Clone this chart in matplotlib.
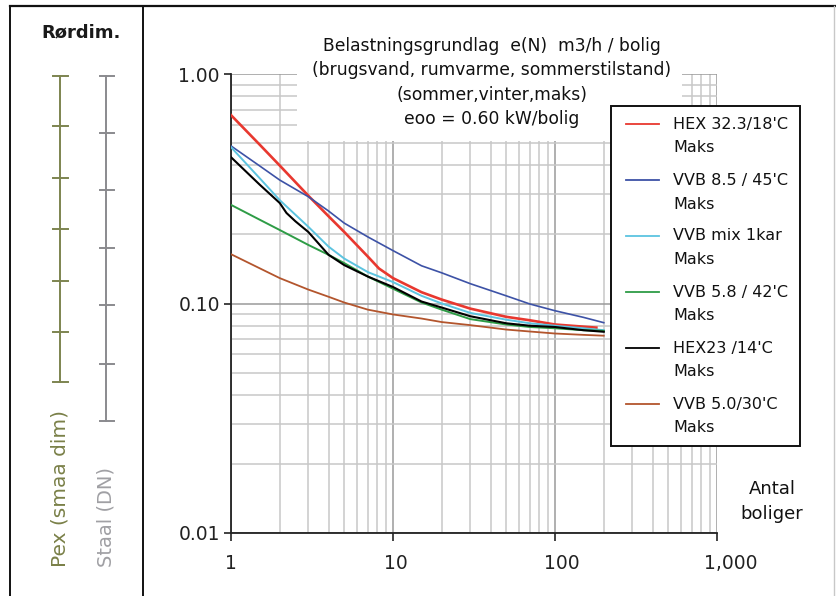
import matplotlib
matplotlib.use("Agg")
import matplotlib.pyplot as plt
from matplotlib.lines import Line2D
from matplotlib.patches import Rectangle
from matplotlib.ticker import LogLocator, FixedLocator, FixedFormatter, NullFormatter
import matplotlib.transforms as mtransforms

# ---------------- data ----------------
x_n = [1, 1.5, 2, 3, 4, 5, 7, 10, 15, 20, 30, 50, 70, 100, 150, 200]

hex_32_x = [1, 1.5, 2, 3, 4, 5, 7, 8.2, 10, 15, 20, 30, 50, 70, 100, 180]
hex_32 = [0.662, 0.493, 0.399, 0.295, 0.240, 0.205, 0.160, 0.142, 0.129, 0.112,
          0.104, 0.095, 0.0875, 0.0845, 0.081, 0.0785]
vvb_85 = [0.486, 0.398, 0.345, 0.292, 0.253, 0.224, 0.195, 0.170, 0.146, 0.136,
          0.122, 0.108, 0.0995, 0.093, 0.087, 0.0825]
vvb_mix = [0.480, 0.352, 0.282, 0.216, 0.177, 0.157, 0.137, 0.124, 0.108, 0.100,
           0.091, 0.085, 0.082, 0.080, 0.078, 0.0765]
vvb_58 = [0.269, 0.232, 0.209, 0.180, 0.163, 0.150, 0.131, 0.116, 0.101, 0.094,
          0.0855, 0.081, 0.079, 0.078, 0.0765, 0.076]
hex_23_x = [1, 1.5, 2, 2.2, 2.5, 3, 4, 5, 7, 10, 15, 20, 30, 50, 70, 100, 150, 200]
hex_23 = [0.434, 0.330, 0.274, 0.248, 0.228, 0.205, 0.163, 0.147, 0.131, 0.118,
          0.102, 0.096, 0.088, 0.082, 0.080, 0.079, 0.0765, 0.0753]
vvb_50 = [0.164, 0.1425, 0.129, 0.115, 0.107, 0.101, 0.094, 0.0896, 0.086, 0.083,
          0.0805, 0.077, 0.0755, 0.074, 0.073, 0.0724]

series_labels = ["HEX 32.3/18'C", "VVB 8.5 / 45'C", "VVB mix 1kar",
                 "VVB 5.8 / 42'C", "HEX23 /14'C", "VVB 5.0/30'C"]
series_sub = "Maks"
series_colors = ["#e8382f", "#3d52a6", "#5cc4e0", "#2e9c46", "#000000", "#b3552d"]
series_lw = [1.9, 1.2, 1.4, 1.4, 1.5, 1.3]

x_ticks = [1, 10, 100, 1000]
x_ticklabels = ["1", "10", "100", "1,000"]
y_ticks = [0.01, 0.1, 1.0]
y_ticklabels = ["0.01", "0.10", "1.00"]

title_lines = ["Belastningsgrundlag  e(N)  m3/h / bolig",
               "(brugsvand, rumvarme, sommerstilstand)",
               "(sommer,vinter,maks)",
               "eoo = 0.60 kW/bolig"]

# pipe-dimension scale markers (left panel), pixel rows
pex_marks = [75.7, 126, 177.7, 228.7, 281, 332, 382.3]
staal_marks = [75.7, 133.3, 190.3, 248.3, 305.3, 364.3, 421]

# ---------------- figure ----------------
W, H = 836, 596
fig = plt.figure(figsize=(W / 100, H / 100), dpi=100)
plt.rcParams['font.family'] = ['DejaVu Sans']


def fx(px):
    return px / W


def fy(py):
    return 1 - py / H


ax_l, ax_r, ax_t, ax_b = 231, 717, 74, 533
ax = fig.add_axes([fx(ax_l), fy(ax_b), (ax_r - ax_l) / W, (ax_b - ax_t) / H])
ax.set_xscale('log')
ax.set_yscale('log')
ax.set_xlim(1, 1000)
ax.set_ylim(0.01, 1.0)

xs_list = [hex_32_x, x_n, x_n, x_n, hex_23_x, x_n]
ys_list = [hex_32, vvb_85, vvb_mix, vvb_58, hex_23, vvb_50]
for xs, ys, c, lw, lab in zip(xs_list, ys_list, series_colors, series_lw, series_labels):
    ax.plot(xs, ys, color=c, lw=lw, label=lab, zorder=3)

ax.xaxis.set_major_locator(FixedLocator(x_ticks))
ax.xaxis.set_major_formatter(FixedFormatter(x_ticklabels))
ax.yaxis.set_major_locator(FixedLocator(y_ticks))
ax.yaxis.set_major_formatter(FixedFormatter(y_ticklabels))
ax.xaxis.set_minor_locator(LogLocator(base=10, subs=range(2, 10)))
ax.yaxis.set_minor_locator(LogLocator(base=10, subs=range(2, 10)))
ax.xaxis.set_minor_formatter(NullFormatter())
ax.yaxis.set_minor_formatter(NullFormatter())

ax.grid(which='minor', color='#c8c8c8', lw=1.1)
ax.grid(which='major', color='#9a9a9a', lw=1.1)
ax.set_axisbelow(True)

for s in ['top', 'right']:
    ax.spines[s].set_visible(False)
for s in ['left', 'bottom']:
    ax.spines[s].set_linewidth(1.3)
    ax.spines[s].set_color('#222222')

ax.tick_params(axis='both', which='minor', length=0)
ax.tick_params(axis='x', which='major', length=6, width=1.2, pad=9,
               labelsize=13.5, labelcolor='#222222', color='#222222')
ax.tick_params(axis='y', which='major', length=5, width=1.2, pad=3,
               labelsize=13.5, labelcolor='#222222', color='#222222')

# slight horizontal offsets of x tick labels as in reference
offs = [0, 3, 7, 14]
for lab, o in zip(ax.get_xticklabels(), offs):
    lab.set_transform(lab.get_transform() +
                      mtransforms.ScaledTranslation(o / 100, 0, fig.dpi_scale_trans))

# title block (white background masking grid)
fig.add_artist(Rectangle((fx(297), fy(141)), (682 - 297) / W, (141 - 20) / H,
                         transform=fig.transFigure, facecolor='white',
                         edgecolor='none', zorder=1))
for i, t in enumerate(title_lines):
    fig.text(fx(492), fy(46 + 24.3 * i), t, ha='center', va='center',
             fontsize=12.3, color='#111111', zorder=2)

# x-axis caption
fig.text(fx(772), fy(489), "Antal", ha='center', va='center', fontsize=13, color='#111111')
fig.text(fx(772), fy(514), "boliger", ha='center', va='center', fontsize=13, color='#111111')

# legend (drawn manually: handle aligned with first label line)
fig.add_artist(Rectangle((fx(611), fy(446)), (800 - 611) / W, (446 - 106) / H,
                         transform=fig.transFigure, facecolor='white',
                         edgecolor='#111111', lw=1.4, zorder=1))
for i, (lab, c) in enumerate(zip(series_labels, series_colors)):
    y0 = 124 + 56 * i
    fig.add_artist(Line2D([fx(626), fx(659)], [fy(y0), fy(y0)], color=c, lw=1.3,
                          transform=fig.transFigure, zorder=2))
    fig.text(fx(673), fy(y0), lab, ha='left', va='center', fontsize=11.5,
             color='#111111', zorder=2)
    fig.text(fx(673), fy(y0 + 24), series_sub, ha='left', va='center', fontsize=11.5,
             color='#111111', zorder=2)

# outer frame and divider
fig.add_artist(Line2D([fx(10), fx(836)], [fy(6), fy(6)], color='#111111', lw=1.6,
                      transform=fig.transFigure))
fig.add_artist(Line2D([fx(10), fx(10)], [fy(6), fy(596)], color='#111111', lw=1.4,
                      transform=fig.transFigure))
fig.add_artist(Line2D([fx(143), fx(143)], [fy(6), fy(596)], color='#111111', lw=1.4,
                      transform=fig.transFigure))
fig.add_artist(Line2D([fx(834), fx(834)], [fy(6), fy(596)], color='#c8c8c8', lw=1.0,
                      transform=fig.transFigure))

# left panel: pipe dimension scales
fig.text(fx(81), fy(32), "Rørdim.", ha='center', va='center', fontsize=13,
         fontweight='bold', color='#1a1a1a')
pex_c = '#7d8450'
staal_c = '#8a8a8e'
fig.add_artist(Line2D([fx(60), fx(60)], [fy(pex_marks[0]), fy(pex_marks[-1])],
                      color=pex_c, lw=1.4, transform=fig.transFigure))
for m in pex_marks:
    fig.add_artist(Line2D([fx(53), fx(67.5)], [fy(m), fy(m)], color=pex_c, lw=1.4,
                          transform=fig.transFigure))
fig.add_artist(Line2D([fx(106), fx(106)], [fy(staal_marks[0]), fy(staal_marks[-1])],
                      color=staal_c, lw=1.4, transform=fig.transFigure))
for m in staal_marks:
    fig.add_artist(Line2D([fx(100), fx(113.5)], [fy(m), fy(m)], color=staal_c, lw=1.4,
                          transform=fig.transFigure))
fig.text(fx(60), fy(567), "Pex (smaa dim)", rotation=90, ha='center', va='bottom',
         fontsize=14.5, color='#7a8048')
fig.text(fx(106), fy(567), "Staal (DN)", rotation=90, ha='center', va='bottom',
         fontsize=14, color='#a0a0a4')

fig.savefig("out.png", dpi=100)
